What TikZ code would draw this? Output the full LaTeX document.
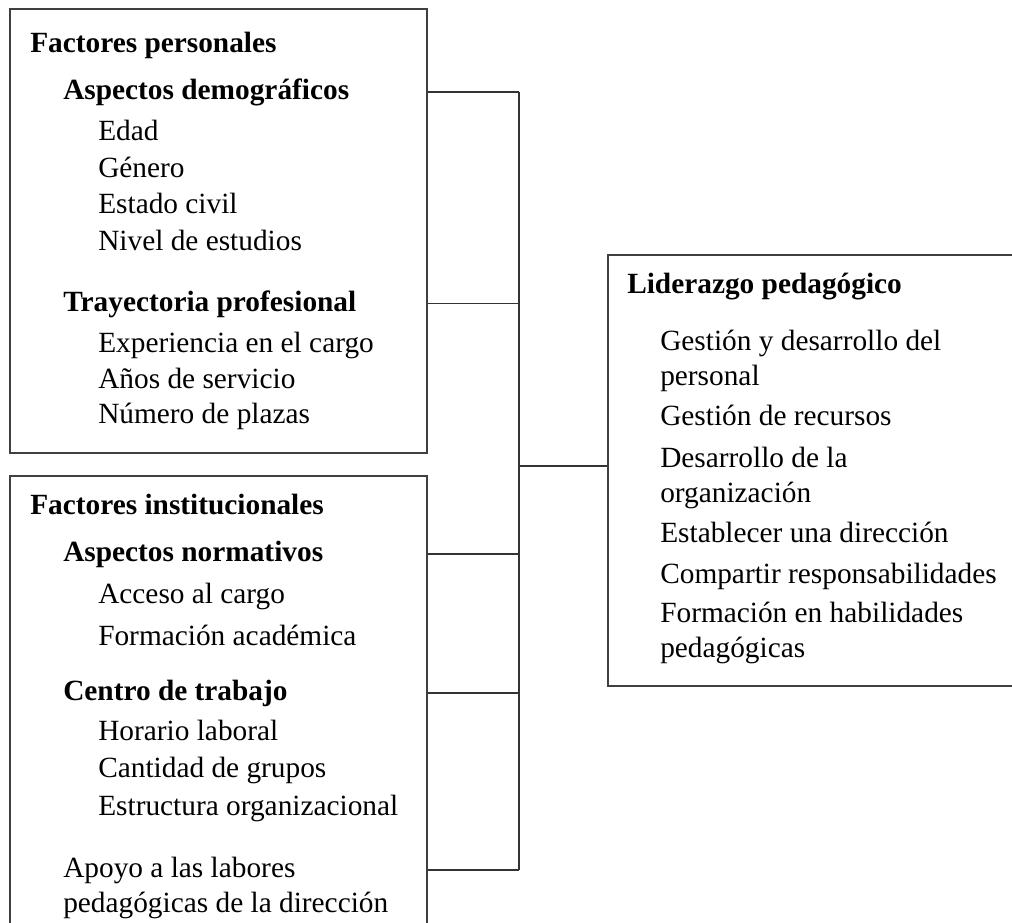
\documentclass[tikz,border=0pt]{standalone}
\usepackage{fontspec}
\setmainfont{Liberation Serif}
\usetikzlibrary{fit}
\tikzset{
  panel/.style={
    draw=black!75,
    line width=0.9pt,
    inner sep=0pt
  },
  head/.style={
    anchor=base west,
    inner sep=0pt,
    font=\fontsize{22}{26}\selectfont\bfseries
  },
  item/.style={
    anchor=base west,
    inner sep=0pt,
    font=\fontsize{22}{26}\selectfont
  },
  link/.style={
    draw=black!80,
    line width=0.9pt
  }
}

\begin{document}
\begin{tikzpicture}[x=0.75pt, y=-0.75pt]
  \useasboundingbox (0,0) rectangle (1012,922);
  \clip (0,0) rectangle (1012,922);

  % boxes
  \node[panel, fit={(10,9) (427,453)}] (personales) {};
  \node[panel, fit={(10,476) (427,940)}] (institucionales) {};
  \node[panel, fit={(608,255) (1030,686)}] (liderazgo) {};

  % factores personales
  \node[head] (fp) at (30,52) {Factores personales};
  \node[head] (demog) at (63,99) {Aspectos demográficos};
  \node[item] (edad) at (98,140) {Edad};
  \node[item] (genero) at (98,177) {Género};
  \node[item] (civil) at (98,213) {Estado civil};
  \node[item] (estudios) at (98,250) {Nivel de estudios};
  \node[head] (trayect) at (63,311) {Trayectoria profesional};
  \node[item] (experiencia) at (98,352) {Experiencia en el cargo};
  \node[item] (servicio) at (98,388) {Años de servicio};
  \node[item] (plazas) at (98,423) {Número de plazas};

  % factores institucionales
  \node[head] (fi) at (30,514) {Factores institucionales};
  \node[head] (normat) at (63,561) {Aspectos normativos};
  \node[item] (acceso) at (98,603) {Acceso al cargo};
  \node[item] (formacion) at (98,645) {Formación académica};
  \node[head] (centro) at (63,700) {Centro de trabajo};
  \node[item] (horario) at (98,740) {Horario laboral};
  \node[item] (grupos) at (98,777) {Cantidad de grupos};
  \node[item] (estructura) at (98,815) {Estructura organizacional};
  \node[item] (apoyo) at (63,877) {Apoyo a las labores};
  \node[item] (apoyob) at (63,912) {pedagógicas de la dirección};

  % liderazgo pedagogico
  \node[head] (lp) at (627,293) {Liderazgo pedagógico};
  \node[item] (gestion) at (660,350) {Gestión y desarrollo del};
  \node[item] (gestionb) at (660,385) {personal};
  \node[item] (recursos) at (660,425) {Gestión de recursos};
  \node[item] (desarrollo) at (660,467) {Desarrollo de la};
  \node[item] (desarrollob) at (660,502) {organización};
  \node[item] (direccion) at (660,542) {Establecer una dirección};
  \node[item] (compartir) at (660,583) {Compartir responsabilidades};
  \node[item] (habilid) at (660,622) {Formación en habilidades};
  \node[item] (habilidb) at (660,657) {pedagógicas};

  % connectors
  \coordinate (hub) at (519,466);
  \draw[link] (personales.east |- demog) -- (hub |- demog);
  \draw[link] (personales.east |- trayect) -- (hub |- trayect);
  \draw[link] (institucionales.east |- normat) -- (hub |- normat);
  \draw[link] (institucionales.east |- centro) -- (hub |- centro);
  \draw[link] (institucionales.east |- apoyo) -- (hub |- apoyo);
  \draw[link] (hub |- demog) -- (hub |- apoyo);
  \draw[link, line width=1.3pt] (hub) -- (liderazgo.west |- hub);
\end{tikzpicture}
\end{document}
